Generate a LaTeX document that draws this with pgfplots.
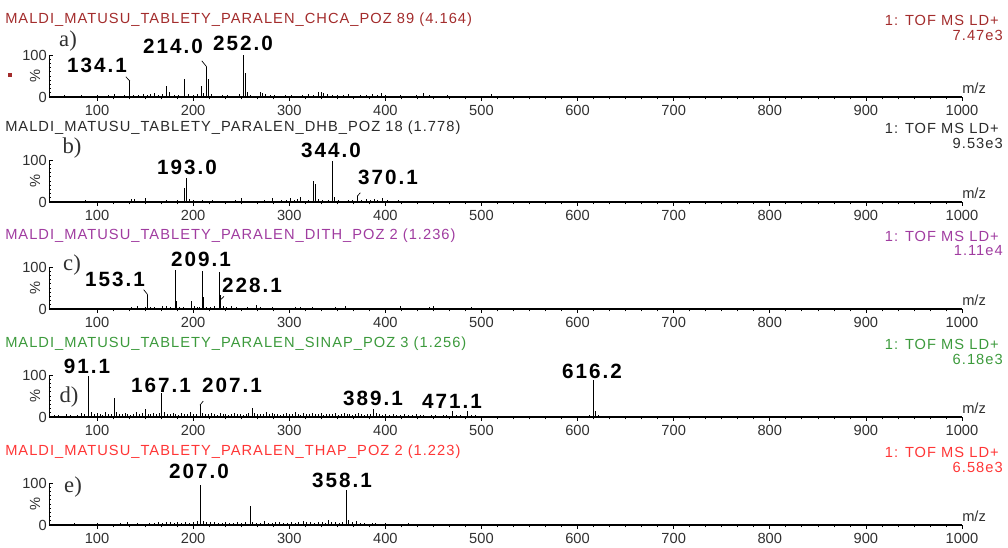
\documentclass[border=0pt]{standalone}
\usepackage{fontspec}
\setmainfont{Liberation Sans}
\newfontfamily\titlefont[LetterSpace=7]{Liberation Sans}
\newfontfamily\pkfont[LetterSpace=10]{Liberation Sans}
\newfontfamily\letterfont{Liberation Serif}
\usepackage{pgfplots}
\pgfplotsset{compat=1.18}
\definecolor{ca}{HTML}{A32C2C}
\definecolor{cb}{HTML}{2A2A2A}
\definecolor{cc}{HTML}{A03CA0}
\definecolor{cd}{HTML}{3C9A3C}
\definecolor{ce}{HTML}{FF3636}
\definecolor{tk}{HTML}{303030}

\pgfplotsset{
  ms/.style={
    scale only axis, width=684.75pt, height=31.5pt, anchor=south west,
    xmin=50, xmax=1000, ymin=0, ymax=100,
    axis x line=bottom, axis y line=left,
    axis line style={-},
    x axis line style={line width=1.1pt},
    y axis line style={line width=0.6pt},
    xtick={100,200,...,1000}, minor x tick num=5,
    ytick={0,100}, minor y tick num=9,
    xtick align=outside, ytick align=inside,
    major tick length=3pt, minor tick length=1.8pt,
    every tick/.style={black, line width=0.5pt},
    tick label style={font=\fontsize{11}{12}\selectfont, text=tk},
    yticklabel style={inner xsep=1.5pt},
    /pgf/number format/assume math mode=true,
    /pgf/number format/1000 sep={},
    clip=false,
  },
  spec/.style={ycomb, black, line width=0.6pt, mark=none},
}
\newcommand\mz{\node[anchor=south west, inner sep=0pt, font=\fontsize{11}{12}\selectfont, text=tk] at (rel axis cs:1,0) [yshift=2pt] {m/z};
  \node[rotate=90, inner sep=0pt, font=\fontsize{11}{12}\selectfont, text=tk] at ([xshift=-10.5pt]rel axis cs:0,0.5) {\%};}
\newcommand\pk[3]{\node[font=\pkfont\bfseries\fontsize{15.5}{15.5}\selectfont, inner sep=0pt] at (#1,{548-#2}) {#3};}
\newcommand\hdr[5]{%
  \node[anchor=west, inner sep=0pt, text=#1, font=\titlefont\fontsize{11}{12}\selectfont] at (5,{548-#2}) {#3};
  \node[anchor=east, inner sep=0pt, text=#1, font=\titlefont\fontsize{11}{12}\selectfont] at (999,{548-#2}) {1: TOF MS LD+};
  \node[anchor=east, inner sep=0pt, text=#1, font=\titlefont\fontsize{11}{12}\selectfont] at (1003,{548-#2-15}) {#4};
  \node[text=tk, inner sep=0pt, font=\letterfont\fontsize{17}{17}\selectfont] at #5;}

\begin{document}
\begin{tikzpicture}
\useasboundingbox (0,0) rectangle (756pt,411pt);

% a) CHCA
\begin{axis}[ms, at={(36.75pt,338.25pt)}]
\addplot[spec] coordinates {(50,2)(55,3)(60,2)(66,4)(72,3)(78,2)(84,5)(90,3)(96,2)(100,4)(106,3)(112,4)(118,6)(122,3)(128,4)(134.1,38)(138,5)(143,4)(148,6)(152,4)(156,8)(160,10)(164,5)(168,7)(172,26)(175,12)(180,5)(185,4)(190.8,43)(195,6)(200,4)(204,8)(208.9,25)(211,10)(214,72)(216,42)(219,8)(224,3)(230,4)(236,5)(242,3)(248,6)(252.6,100)(254,56)(256,12)(260,4)(265,3)(270,11)(272,9)(275,8)(280,5)(285,4)(290,3)(296,4)(302,5)(308,3)(314,4)(320,6)(325,5)(330,11)(333,12)(336,9)(340,6)(345,4)(350,5)(356,4)(362,6)(368,3)(374,4)(380,5)(386,6)(392,4)(396,10)(400,5)(408,3)(416,4)(424,3)(432,4)(440,10)(446,4)(455,3)(465,4)(475,3)(485,2)(495,3)(510,7)(520,3)(535,2)(550,3)(565,2)(580,3)(600,2)(620,3)(640,2)(660,3)(680,2)(700,2)(720,3)(740,2)(760,2)(780,3)(800,2)(820,2)(840,3)(860,2)(880,2)(900,3)(920,2)(940,2)(960,3)(980,2)(995,2)};
\draw[line width=0.5pt] (axis cs:134.1,38) -- (axis cs:130,48);
\draw[line width=0.5pt] (axis cs:214,72) -- (axis cs:209,86);
\mz
\end{axis}

% b) DHB
\begin{axis}[ms, at={(36.75pt,259.5pt)}]
\addplot[spec] coordinates {(52,3)(58,2)(64,3)(70,2)(76,3)(82,2)(88,4)(94,2)(100,3)(106,2)(112,3)(118,2)(124,3)(130,2)(136,8)(139,6)(145,3)(150,10)(155,3)(160,2)(166,3)(172,4)(178,3)(184,4)(191,33)(193.3,56)(196,6)(200,4)(205,3)(210,5)(215,3)(220,4)(226,2)(232,3)(238,2)(244,4)(250.5,10)(256,3)(262,2)(268,3)(274,4)(279,3)(282.7,10)(287,3)(292,4)(297,5)(300.8,9)(305,4)(308,6)(311.5,12)(316,3)(320,5)(325.4,50)(327,43)(330,8)(334,4)(338,3)(341,5)(344.5,97)(347,12)(351,4)(356,3)(362,5)(366,4)(370.8,14)(375,5)(380,6)(384,4)(389,8)(392,5)(397,10)(402,4)(408,3)(414,4)(420,3)(426,2)(432,3)(440,2)(448,3)(456,2)(464,3)(472,2)(480,3)(490,2)(500,3)(512,2)(525,3)(540,2)(555,3)(570,2)(585,3)(600,2)(615,3)(630,2)(645,3)(660,2)(675,3)(690,2)(705,3)(720,2)(735,3)(750,2)(765,2)(780,3)(800,2)(820,2)(840,3)(860,2)(880,2)(900,3)(920,2)(940,2)(960,3)(980,2)(995,2)};
\draw[line width=0.5pt] (axis cs:370.8,14) -- (axis cs:374,22);
\mz
\end{axis}

% c) DITH
\begin{axis}[ms, at={(36.75pt,179.25pt)}]
\addplot[spec] coordinates {(52,2)(58,3)(64,2)(70,3)(76,2)(82,3)(88,2)(94,3)(100,2)(106,3)(112,2)(118,3)(124,2)(130,3)(136,4)(142,6)(146,3)(150,5)(152.7,34)(156,4)(160,5)(164,3)(168,6)(172,8)(176,4)(181.8,93)(183,20)(186,5)(190,4)(194,3)(198.5,18)(201,6)(204,4)(207,5)(209.8,91)(211,28)(214,5)(218,4)(222,6)(226.8,89)(228.1,33)(231,8)(235,5)(240,7)(245,4)(250,3)(256,4)(260,3)(265.8,10)(270,4)(276,3)(282,4)(288,3)(294,2)(300,3)(306,4)(312,5)(318,3)(324,4)(330,3)(336,2)(342,3)(348,4)(354,3)(358,8)(364,3)(370,2)(378,3)(386,2)(394,3)(402,2)(410,3)(416,6)(422,3)(430,2)(438,3)(446,4)(450,7)(456,3)(464,2)(472,3)(480,2)(490,5)(500,3)(512,2)(525,3)(540,2)(555,3)(570,2)(585,3)(600,2)(615,3)(630,2)(645,3)(660,2)(675,3)(690,2)(705,3)(720,2)(735,2)(750,3)(770,2)(790,3)(810,2)(830,2)(850,3)(870,2)(890,2)(910,3)(930,2)(950,2)(970,3)(990,2)};
\draw[line width=0.5pt] (axis cs:152.7,34) -- (axis cs:148.5,46);
\draw[line width=0.5pt] (axis cs:227.6,20) -- (axis cs:232,30);
\mz
\end{axis}

% d) SINAP
\begin{axis}[ms, at={(36.75pt,98.25pt)}]
\addplot[spec] coordinates {(52,3)(56,5)(60,4)(64,3)(68,6)(72,4)(76,3)(80,5)(84,10)(87,6)(91.1,98)(94,12)(97,6)(100,9)(103,7)(106,5)(109,11)(112,8)(115,6)(117.8,45)(120,12)(123,8)(126,6)(129,10)(132,7)(135,5)(138,8)(141,11)(144,7)(147,9)(150,18)(153,8)(156,6)(159,10)(162,7)(165,9)(167.1,57)(170,12)(173,8)(176,6)(179,10)(182,7)(185,5)(188,9)(191,6)(194,8)(197,11)(200,7)(203,6)(207.1,28)(210,9)(213,6)(216,8)(219,10)(222,7)(225,5)(228,9)(231,6)(234,8)(237,5)(240,7)(243,10)(246,6)(249,8)(252,5)(255,7)(258,9)(261.5,22)(264,10)(267,7)(270,6)(273,8)(276,11)(279,7)(282,9)(285,6)(288,8)(291,5)(294,7)(297,10)(300,6)(303,8)(306,11)(309,7)(312,5)(315,9)(318,6)(321,8)(324,10)(327,7)(330,6)(333,9)(336,5)(339,8)(342,7)(345,6)(348,9)(351,5)(354,7)(357,10)(360,6)(363,8)(366,5)(369,7)(372,9)(375,6)(378,5)(381,8)(384,6)(387.7,20)(391,9)(394,6)(397,5)(400,7)(404,4)(408,6)(412,5)(416,4)(420,6)(424,5)(428,4)(432,6)(436,4)(440,5)(444,3)(448,5)(452,4)(456,3)(460,5)(464,4)(469.9,14)(474,5)(478,4)(482,3)(485.8,14)(490,5)(494,4)(498,3)(505,2)(515,3)(525,2)(535,3)(545,2)(555,3)(565,2)(575,3)(585,2)(595,3)(605,2)(612,4)(616.5,88)(619,15)(622,4)(630,3)(640,2)(650,3)(660,2)(670,3)(680,2)(690,3)(700,2)(715,3)(730,2)(745,3)(760,2)(775,3)(790,2)(805,3)(820,2)(835,3)(850,2)(865,3)(880,2)(895,3)(910,2)(925,3)(940,2)(955,3)(970,2)(985,3)(998,2)};
\draw[line width=0.5pt] (axis cs:207.1,28) -- (axis cs:210.5,38);
\mz
\end{axis}

% e) THAP
\begin{axis}[ms, at={(36.75pt,17.25pt)}]
\addplot[spec] coordinates {(52,2)(58,3)(64,2)(70,3)(76,4)(82,2)(88,3)(94,2)(100,4)(106,2)(112,3)(118,2)(124,5)(128,3)(132,6)(136,3)(142,4)(148,3)(154,5)(160,4)(164,6)(168,5)(172,7)(176,6)(180,5)(184,7)(188,4)(192,6)(196,5)(200,8)(204,10)(208,96)(211,10)(214,8)(218,6)(222,7)(226,5)(230,4)(234,6)(238,5)(242,4)(246,6)(250,5)(254,7)(259.9,46)(262,8)(266,5)(270,4)(274,9)(278,5)(282,4)(286,6)(290,7)(294,4)(298,5)(302,6)(306,4)(310,7)(315,10)(318,6)(322,8)(326,5)(330,6)(334,7)(338,5)(341,12)(344,8)(348,6)(352,5)(355,7)(359,84)(362,12)(366,8)(370,10)(374,5)(378,4)(382,3)(386,4)(390,5)(395,3)(400,4)(406,3)(412,2)(418,3)(424,4)(430,2)(436,3)(442,2)(448,3)(456,2)(464,3)(472,2)(480,3)(490,2)(500,3)(512,2)(525,3)(540,2)(555,3)(570,2)(585,3)(600,2)(615,3)(630,2)(645,3)(660,2)(675,3)(690,2)(705,3)(720,2)(740,3)(760,2)(780,3)(800,2)(820,2)(840,3)(860,2)(880,2)(900,3)(920,2)(940,2)(960,3)(980,2)(995,2)};
\mz
\end{axis}

\begin{scope}[x=0.75pt, y=0.75pt]
\hdr{ca}{20}{MALDI\_MATUSU\_TABLETY\_PARALEN\_CHCA\_POZ 89 (4.164)}{7.47e3}{(68,{548-41}) {a)}}
\hdr{cb}{128}{MALDI\_MATUSU\_TABLETY\_PARALEN\_DHB\_POZ 18 (1.778)}{9.53e3}{(72,{548-148}) {b)}}
\hdr{cc}{236}{MALDI\_MATUSU\_TABLETY\_PARALEN\_DITH\_POZ 2 (1.236)}{1.11e4}{(72,{548-265}) {c)}}
\hdr{cd}{344}{MALDI\_MATUSU\_TABLETY\_PARALEN\_SINAP\_POZ 3 (1.256)}{6.18e3}{(69,{548-397}) {d)}}
\hdr{ce}{452}{MALDI\_MATUSU\_TABLETY\_PARALEN\_THAP\_POZ 2 (1.223)}{6.58e3}{(73,{548-487}) {e)}}
\fill[ca] (8,{548-77}) rectangle (12,{548-73});
\pk{97}{65}{134.1}\pk{173}{46}{214.0}\pk{243}{43}{252.0}
\pk{187}{167}{193.0}\pk{331}{150}{344.0}\pk{388}{177}{370.1}
\pk{115}{279}{153.1}\pk{201}{259}{209.1}\pk{252}{285}{228.1}
\pk{87}{366}{91.1}\pk{161}{385}{167.1}\pk{232}{385}{207.1}\pk{373}{398}{389.1}\pk{452}{401}{471.1}\pk{592}{371}{616.2}
\pk{199}{471}{207.0}\pk{342}{480}{358.1}
\end{scope}
\end{tikzpicture}
\end{document}
